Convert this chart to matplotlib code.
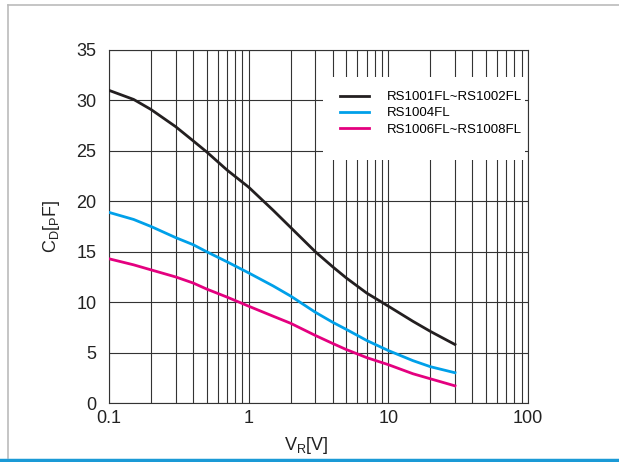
import matplotlib
matplotlib.use("Agg")
import matplotlib.pyplot as plt
from matplotlib.lines import Line2D
from matplotlib.patches import Rectangle
from matplotlib.ticker import FixedLocator, LogLocator, NullFormatter

plt.rcParams["font.family"] = ["Liberation Sans", "DejaVu Sans"]
plt.rcParams["mathtext.fontset"] = "custom"
plt.rcParams["mathtext.rm"] = "Liberation Sans"
plt.rcParams["mathtext.it"] = "Liberation Sans"

# reverse voltage [V]
vr = [0.1, 0.15, 0.2, 0.3, 0.4, 0.5, 0.7, 1, 1.5, 2, 3, 4, 5, 7, 10, 15, 20, 30]
# capacitance [pF]
cd_1001 = [31.0, 30.1, 29.1, 27.4, 26.0, 24.9, 23.1, 21.4, 19.1, 17.4, 15.0, 13.5, 12.4, 10.9, 9.6, 8.1, 7.1, 5.8]
cd_1004 = [18.9, 18.2, 17.5, 16.4, 15.7, 15.0, 14.0, 12.9, 11.6, 10.6, 9.0, 8.0, 7.3, 6.2, 5.2, 4.2, 3.6, 3.0]
cd_1006 = [14.3, 13.7, 13.2, 12.5, 11.9, 11.3, 10.5, 9.6, 8.6, 7.9, 6.7, 5.9, 5.3, 4.5, 3.8, 2.9, 2.4, 1.7]

labels = ["RS1001FL~RS1002FL", "RS1004FL", "RS1006FL~RS1008FL"]
colors = ["#231f20", "#00a0e9", "#e4007f"]
x_ticks = [0.1, 1, 10, 100]
x_ticklabels = ["0.1", "1", "10", "100"]
y_ticks = [0, 5, 10, 15, 20, 25, 30, 35]

fig = plt.figure(figsize=(6.19, 4.62), dpi=100)
ax = fig.add_axes([109 / 619, 59 / 462, 419 / 619, 353 / 462])

for ys, lab, col in zip([cd_1001, cd_1004, cd_1006], labels, colors):
    ax.plot(vr, ys, color=col, lw=2.0, label=lab, zorder=3)

ax.set_xscale("log")
ax.set_xlim(0.1, 100)
ax.set_ylim(0, 35)
ax.xaxis.set_major_locator(FixedLocator(x_ticks))
ax.set_xticklabels(x_ticklabels)
ax.xaxis.set_minor_locator(LogLocator(base=10, subs=range(2, 10)))
ax.xaxis.set_minor_formatter(NullFormatter())
ax.set_yticks(y_ticks)
ax.grid(True, which="both", axis="x", color="#333333", lw=0.8)
ax.grid(True, which="major", axis="y", color="#333333", lw=0.8)
ax.tick_params(which="both", length=0, labelsize=13, colors="#222222")
ax.tick_params(axis="y", pad=9)
ax.tick_params(axis="x", pad=5)
for sp in ax.spines.values():
    sp.set_color("#333333")
    sp.set_linewidth(0.8)

# white panel behind the legend
ax.add_patch(Rectangle((0.511, 0.688), 0.482, 0.236, transform=ax.transAxes,
                       facecolor="white", edgecolor="none", zorder=1.6))
ax.legend(loc="upper left", bbox_to_anchor=(0.551, 0.884), frameon=False,
          fontsize=9.5, borderpad=0, labelspacing=0.3, handlelength=2.2,
          handletextpad=1.4, borderaxespad=0)

ax.set_xlabel(r"$\mathrm{V_R[V]}$", fontsize=13, color="#222222")
ax.set_ylabel(r"$\mathrm{C_D[_PF]}$", fontsize=13, color="#222222")
ax.xaxis.set_label_coords(0.47, -0.09)
ax.yaxis.set_label_coords(-0.113, 0.5)

# outer frame
fig.add_artist(Line2D([8 / 619, 1], [1 - 5 / 462, 1 - 5 / 462], color="#bbbbbb", lw=1.2))
fig.add_artist(Line2D([8 / 619, 8 / 619], [4 / 462, 1 - 5 / 462], color="#bbbbbb", lw=1.2))
fig.add_artist(Line2D([0, 1], [2 / 462, 2 / 462], color="#1a9ad6", lw=2.5))

fig.savefig("out.png", dpi=100)
